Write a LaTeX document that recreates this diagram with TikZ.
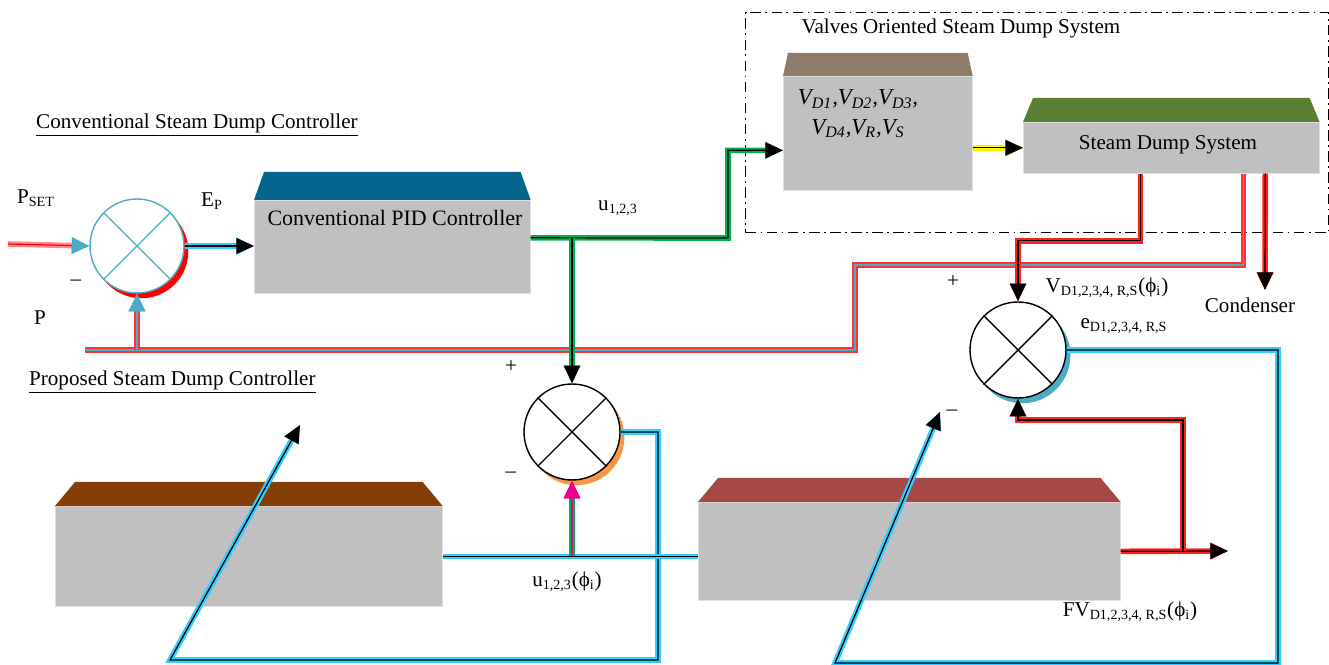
\documentclass[tikz,border=0pt]{standalone}
\usepackage{fontspec}
\setmainfont{Liberation Serif}
\usetikzlibrary{arrows.meta,calc,shadows}
\definecolor{boxgray}{HTML}{C0C0C0}
\definecolor{pidblue}{HTML}{04668E}
\definecolor{valvebrown}{HTML}{8F7B69}
\definecolor{sdsgreen}{HTML}{5B7F32}
\definecolor{propbrown}{HTML}{843F06}
\definecolor{fvred}{HTML}{A64846}
\definecolor{sumblue}{HTML}{4BACC6}
\definecolor{sumorange}{HTML}{F79646}
\definecolor{glowcyan}{HTML}{33CCFF}
\definecolor{glowgreen}{HTML}{00B050}
\definecolor{glowred}{HTML}{FF2020}

\begin{document}
\begin{tikzpicture}[x=0.02cm,y=-0.02cm,font=\fontsize{12}{14}\selectfont,
 blk/.style={fill=boxgray,draw=black!12,inner sep=0pt,anchor=north west},
 sum/.style={circle,draw=black,fill=white,line width=.8pt,minimum size=1.92cm,inner sep=0pt,drop shadow={fill=#1,opacity=1,shadow xshift=2.5pt,shadow yshift=-3pt}},
 wire/.style={draw=black,line width=.7pt,preaction={draw=#1,line width=3.2pt}},
 pwire/.style={draw=sumblue,line width=.8pt,preaction={draw=red!80,line width=3.2pt}},
 arw/.style={-{Triangle[length=10pt,width=9pt,#1]}},arw/.default={}]
\useasboundingbox (0,0) rectangle (1329,665);
\node[draw,dash pattern=on 6pt off 2.5pt on 1pt off 2.5pt,line width=.8pt,minimum width=11.66cm,minimum height=4.4cm,anchor=north west,inner sep=0pt] (vframe) at (745,12) {};
\node[blk,minimum width=5.52cm,minimum height=1.86cm] (pid) at (254,200) {};
\node[blk,minimum width=3.78cm,minimum height=2.28cm] (valve) at (783,76) {};
\node[blk,minimum width=5.92cm,minimum height=1.02cm] (sds) at (1023,122) {};
\node[blk,minimum width=7.74cm,minimum height=2cm] (prop) at (55,506) {};
\node[blk,minimum width=8.44cm,minimum height=1.96cm] (fv) at (698,502) {};
\foreach \b/\c/\i/\h in {pid/pidblue/10/28,valve/valvebrown/5/23,sds/sdsgreen/10/24,prop/propbrown/20/24,fv/fvred/20/24}
 \fill[\c] (\b.north west) -- ++(\i,-\h) -- ($(\b.north east)+(-\i,-\h)$) -- (\b.north east) -- cycle;
\node[sum=red,draw=sumblue,minimum size=1.88cm] (sum1) at (137,246) {};
\node[sum=sumorange] (sum2) at (572,432) {};
\node[sum=sumblue] (sum3) at (1018,350) {};
\foreach \s/\c in {sum1/sumblue,sum2/black,sum3/black}
 \draw[\c,line width=.8pt] (\s.north west) -- (\s.south east) (\s.north east) -- (\s.south west);

\node[anchor=west] (convtitle) at (30,125) {\underline{Conventional Steam Dump Controller}};
\node[anchor=west] (proptitle) at (23,382) {\underline{Proposed Steam Dump Controller}};
\node (vtitle) at (961,28) {Valves Oriented Steam Dump System};
\node[font=\fontsize{12.5}{15}\selectfont] (pidtext) at (395,218) {Conventional PID Controller};
\node[align=center,font=\itshape\fontsize{13}{17}\selectfont] (valvetext) at (858,114) {V\textsubscript{D1},V\textsubscript{D2},V\textsubscript{D3},\\V\textsubscript{D4},V\textsubscript{R},V\textsubscript{S}};
\node (sdstext) at (1168,145) {Steam Dump System};
\node (pset) at (36,198) {P\textsubscript{SET}};
\node (ep) at (212,201) {E\textsubscript{P}};
\node (minus1) at (76,283) {–};
\node (plabel) at (40,318) {P};
\node (ulabel) at (618,208) {u\textsubscript{1,2,3}};
\node (plus2) at (511,367) {+};
\node (minus2) at (511,475) {–};
\node (uphi) at (567,582) {u\textsubscript{1,2,3}(ϕ\textsubscript{i})};
\node (plus3) at (953,282) {+};
\node (vphi) at (1107,288) {V\textsubscript{D1,2,3,4, R,S}(ϕ\textsubscript{i})};
\node (cond) at (1250,305) {Condenser};
\node (ephi) at (1124,326) {e\textsubscript{D1,2,3,4, R,S}};
\node (fvphi) at (1130,612) {FV\textsubscript{D1,2,3,4, R,S}(ϕ\textsubscript{i})};
\node (minus4) at (952,413) {–};

\coordinate (pin) at (8,244);
\coordinate (pend) at (85,350);
\coordinate (ubend) at (728,238);
\coordinate (condtip) at (1265,290);
\coordinate (tune1) at (300,425);
\coordinate (tune2) at (940,412);
\coordinate (fvout) at (1228,551);
\coordinate (fvtap) at (1183,551);
\draw[wire=red!45,draw=red,arw={color=sumblue}] (pin) -- (sum1.west);
\draw[wire=glowcyan,arw] (sum1.east) -- (sum1.east -| pid.west);
\draw[pwire] ([xshift=1.44cm]sds.south) |- (855,265) |- (pend);
\draw[pwire,arw={color=sumblue}] (sum1.south |- pend) -- (sum1.south);
\draw[wire=glowgreen,arw] ([yshift=.18cm]pid.east) -- (ubend) |- ([yshift=-.34cm]valve.west);
\draw[wire=glowgreen,arw] (sum2.north |- ubend) -- (sum2.north);
\draw[wire=yellow,arw] (valve.east |- sds.west) -- (sds.west);
\draw[wire=glowred,arw] ([xshift=-.62cm]sds.south) -- ++(0,67) -| (sum3.north);
\draw[wire=glowred,arw] ([xshift=1.88cm]sds.south) -- (condtip);
\draw[wire=glowcyan,arw] (sum2.east) -| (658,660) -- (170,660) -- (tune1);
\draw[wire=glowcyan,arw] (sum3.east) -| (1278,663) -- (835,663) -- (tune2);
\draw[wire=glowcyan] (prop.east) -- (prop.east -| fv.west);
\draw[draw=magenta,line width=.7pt,preaction={draw=glowgreen,line width=3.2pt},arw={color=magenta}] (sum2.south |- prop.east) -- (sum2.south);
\draw[wire=glowred,arw] (fv.east) -- (fvout);
\draw[wire=glowred,arw] (fvtap) -- (1183,420) -| (sum3.south);
\end{tikzpicture}
\end{document}
